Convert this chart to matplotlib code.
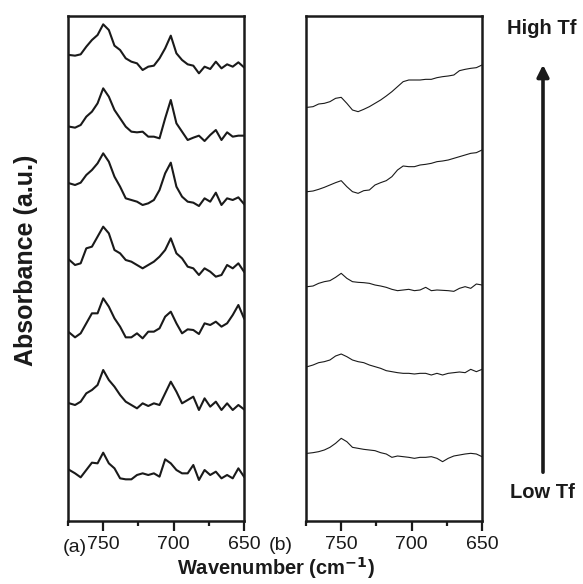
import matplotlib
matplotlib.use("Agg")
import matplotlib.pyplot as plt
import numpy as np

plt.rcParams['font.family'] = ['Liberation Sans', 'DejaVu Sans']

# wavenumber grid (cm-1), high to low
wavenumber = [774, 770, 766, 762, 758, 754, 750, 746, 742, 738, 734, 730, 726, 722, 718, 714,
              710, 706, 702, 698, 694, 690, 686, 682, 678, 674, 670, 666, 662, 658, 654, 650]

# panel (a): relative absorbance (a.u. x 1e3), top to bottom
a1 = [55, 53, 57, 80, 100, 115, 147, 130, 83, 70, 45, 35, 30, 10, 20, 23,
      45, 75, 113, 60, 40, 27, 23, 0, 20, 13, 35, 15, 27, 20, 33, 18]
a2 = [43, 40, 48, 73, 88, 113, 158, 133, 93, 68, 43, 28, 26, 28, 13, 13,
      8, 68, 123, 53, 28, 3, 10, 16, 0, 18, 33, 3, 26, 13, 16, 16]
a3 = [70, 65, 72, 95, 110, 130, 160, 135, 90, 60, 25, 20, 15, 5, 10, 20,
      50, 100, 132, 60, 30, 15, 12, 2, 25, 15, 42, 5, 25, 20, 28, 8]
a4 = [50, 35, 40, 85, 90, 120, 150, 130, 80, 70, 50, 45, 35, 25, 35, 45,
      60, 80, 115, 70, 55, 30, 25, 5, 25, 15, 0, 5, 35, 25, 40, 15]
a5 = [17, 3, 15, 45, 75, 75, 120, 95, 60, 35, 3, 3, 15, 0, 20, 20,
      30, 65, 80, 45, 15, 27, 25, 13, 45, 40, 50, 35, 45, 70, 100, 60]
a6 = [20, 15, 25, 50, 60, 75, 120, 90, 70, 45, 25, 15, 5, 20, 12, 20,
      15, 50, 85, 55, 20, 30, 40, 0, 35, 10, 25, 0, 20, 0, 15, 2]
a7 = [30, 20, 8, 30, 52, 50, 82, 50, 35, 5, 2, 2, 15, 20, 15, 20,
      10, 62, 50, 30, 20, 20, 45, 0, 30, 15, 25, 5, 15, 5, 35, 10]
offsets_a = [1343, 1140, 943, 733, 548, 333, 123]

# panel (b): relative absorbance, High Tf (top) to Low Tf (bottom)
b1 = [13, 15, 23, 25, 30, 40, 43, 25, 5, 0, 7, 15, 25, 35, 47, 60,
      75, 90, 95, 95, 95, 97, 97, 102, 105, 107, 110, 123, 127, 130, 132, 140]
b2 = [5, 7, 12, 18, 25, 32, 38, 20, 5, 0, 8, 10, 25, 32, 38, 50,
      70, 82, 80, 80, 85, 87, 90, 95, 97, 100, 105, 110, 115, 120, 122, 130]
b3 = [15, 17, 25, 30, 33, 43, 55, 40, 30, 28, 27, 25, 20, 17, 13, 7,
      3, 5, 7, 3, 5, 13, 3, 5, 4, 3, 1, 10, 15, 10, 23, 20]
b4 = [25, 30, 37, 40, 45, 57, 63, 55, 45, 40, 37, 30, 25, 20, 13, 10,
      7, 5, 5, 3, 5, 5, 0, 5, 0, 5, 7, 9, 7, 17, 10, 17]
b5 = [25, 27, 30, 35, 43, 55, 70, 60, 43, 40, 37, 35, 33, 27, 23, 13,
      17, 15, 13, 10, 13, 13, 15, 10, 0, 10, 17, 20, 23, 25, 23, 15]
offsets_b = [1228, 983, 688, 438, 178]

W, H = 583, 584
ink = '#1a1a1a'
fig = plt.figure(figsize=(W / 100, H / 100), dpi=100)
ax_a = fig.add_axes([68 / W, (H - 521) / H, 176 / W, 505 / H])
ax_b = fig.add_axes([306 / W, (H - 521) / H, 176 / W, 505 / H])

for spec, off in zip([a1, a2, a3, a4, a5, a6, a7], offsets_a):
    ax_a.plot(wavenumber, np.array(spec) + off, color=ink, lw=1.5)
for spec, off in zip([b1, b2, b3, b4, b5], offsets_b):
    ax_b.plot(wavenumber, np.array(spec) + off, color=ink, lw=0.8)

for ax in (ax_a, ax_b):
    ax.set_xlim(775, 650)
    ax.set_ylim(0, 1515)
    ax.set_xticks([750, 700, 650])
    ax.set_xticks([775, 725, 675], minor=True)
    ax.set_yticks([])
    ax.tick_params(axis='x', which='major', direction='out', length=7, width=1.6,
                   labelsize=14, pad=4, colors=ink)
    ax.tick_params(axis='x', which='minor', direction='out', length=3.5, width=1.6,
                   colors=ink)
    for s in ax.spines.values():
        s.set_linewidth(1.8)
        s.set_color(ink)

fig.text(276 / W, 1 - 568 / H, 'Wavenumber (cm$^{\\mathbf{-1}}$)', ha='center', va='center',
         fontsize=14.5, fontweight='bold', color=ink)
fig.text(26 / W, 1 - 260 / H, 'Absorbance (a.u.)', ha='center', va='center', rotation=90,
         fontsize=18, fontweight='bold', color=ink)
fig.text(75 / W, 1 - 547 / H, '(a)', ha='center', va='center', fontsize=14, color=ink)
fig.text(281 / W, 1 - 545 / H, '(b)', ha='center', va='center', fontsize=14, color=ink)

fig.text(542 / W, 1 - 28 / H, 'High Tf', ha='center', va='center', fontsize=14.5,
         fontweight='bold', color=ink)
fig.text(542 / W, 1 - 493 / H, 'Low Tf', ha='center', va='center', fontsize=14.5,
         fontweight='bold', color=ink)
fig.patches.append(matplotlib.patches.FancyArrowPatch(
    (543 / W, 1 - 475 / H), (543 / W, 1 - 62 / H), transform=fig.transFigure,
    arrowstyle='-|>,head_length=7,head_width=3.5', lw=2.6, color=ink))

fig.savefig('out.png', dpi=100)
